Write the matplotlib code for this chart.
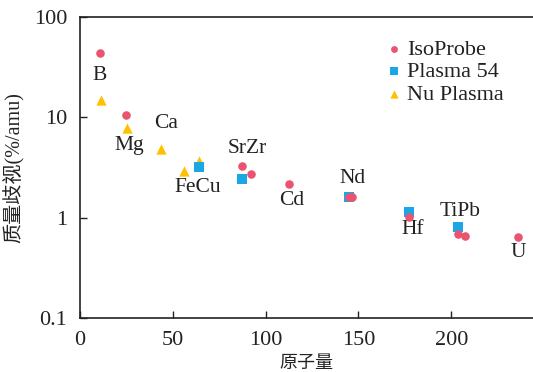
import matplotlib
matplotlib.use("Agg")
import matplotlib.pyplot as plt
from matplotlib.ticker import FixedLocator, FixedFormatter, NullLocator

plt.rcParams["font.family"] = ["Liberation Serif", "Noto Sans CJK SC"]

# IsoProbe
iso_mass = [10.8, 24.8, 87.3, 92.2, 112.7, 144.8, 146.6, 177.4, 203.8, 207.2, 236.0]
iso_bias = [43.7, 10.5, 3.3, 2.75, 2.19, 1.6, 1.6, 1.02, 0.69, 0.66, 0.64]

# Plasma 54
p54_mass = [64.2, 87.3, 145.0, 177.4, 203.8]
p54_bias = [3.24, 2.45, 1.62, 1.15, 0.8]

# Nu Plasma
nu_mass = [11.3, 25.3, 43.7, 56.0, 64.2]
nu_bias = [14.8, 7.8, 4.9, 2.95, 3.7]

# element labels
elem_text = ["B", "Mg", "Ca", "FeCu", "SrZr", "Cd", "Nd", "Hf", "TiPb", "U"]
elem_x = [10.8, 26.4, 46.4, 63.6, 90.0, 114.0, 147.0, 179.5, 205.0, 236.0]
elem_y = [26.0, 5.2, 8.7, 2.0, 4.9, 1.48, 2.45, 0.76, 1.15, 0.45]

xticks = [0, 50, 100, 150, 200]
yticks = [0.1, 1, 10, 100]
ytick_labels = ["0.1", "1", "10", "100"]

fig = plt.figure(figsize=(5.33, 3.72), dpi=100)
ax = fig.add_axes([0.150, 0.145, 0.85, 0.809])

ax.scatter(nu_mass, nu_bias, marker="^", s=55, c="#FFC000", lw=0,
           label="Nu Plasma", zorder=2)
ax.scatter(p54_mass, p54_bias, marker="s", s=58, c="#1AA7E6", lw=0,
           label="Plasma 54", zorder=3)
ax.scatter(iso_mass, iso_bias, marker="o", s=38, c="#EB5470", lw=0,
           label="IsoProbe", zorder=4)

for t, x, y in zip(elem_text, elem_x, elem_y):
    ax.text(x, y, t, ha="center", va="center", fontsize=15.5, color="#222222")

ax.set_yscale("log")
ax.set_xlim(0, 244)
ax.set_ylim(0.1, 100)
ax.xaxis.set_major_locator(FixedLocator(xticks))
ax.yaxis.set_major_locator(FixedLocator(yticks))
ax.yaxis.set_major_formatter(FixedFormatter(ytick_labels))
ax.yaxis.set_minor_locator(NullLocator())
ax.tick_params(direction="in", length=5, width=1, labelsize=16, colors="#222222")
ax.tick_params(axis="x", pad=9)
ax.tick_params(axis="y", pad=9)
ax.spines["right"].set_visible(False)
for s in ["top", "left", "bottom"]:
    ax.spines[s].set_linewidth(1.2)
    ax.spines[s].set_color("#222222")

ax.set_xlabel("原子量", fontsize=13, labelpad=4, color="#222222")
ax.set_ylabel("质量歧视(%/amu)", fontsize=14.5, labelpad=7, color="#222222")

h, l = ax.get_legend_handles_labels()
order = [2, 1, 0]
leg = ax.legend([h[i] for i in order], [l[i] for i in order], loc="upper left",
                bbox_to_anchor=(387 / 533, 1 - 39 / 372), bbox_transform=fig.transFigure,
                frameon=False, fontsize=16,
                markerscale=0.8, handlelength=0.6, handletextpad=0.3,
                labelspacing=0.1, borderpad=0, borderaxespad=0)
for t in leg.get_texts():
    t.set_color("#222222")
    t.set_fontfamily(["Liberation Serif", "Noto Sans CJK SC"])

fig.savefig("out.png", dpi=100)
